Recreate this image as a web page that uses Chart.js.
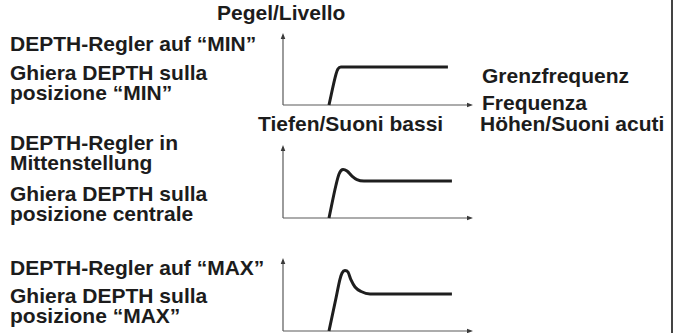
<!DOCTYPE html>
<html>
<head>
<meta charset="utf-8">
<script src="https://cdn.jsdelivr.net/npm/chart.js@4/dist/chart.umd.min.js"></script>
<style>
  html, body { margin: 0; padding: 0; background: #fff; }
  body { width: 679px; height: 333px; position: relative; overflow: hidden;
         font-family: "Liberation Sans", Arial, Helvetica, sans-serif; font-weight: bold;
         color: #1c1c1c; font-size: 21px; line-height: 20px; }
  .t { position: absolute; white-space: nowrap; }
  canvas { position: absolute; }
  .rule { position: absolute; left: 671px; top: 0; width: 1.5px; height: 333px; background: #444; }
</style>
</head>
<body>
<div class="t" style="left:217px;top:3px">Pegel/Livello</div>

<div class="t" style="left:10px;top:34px">DEPTH-Regler auf “MIN”</div>
<div class="t" style="left:10px;top:63px">Ghiera DEPTH sulla<br>posizione “MIN”</div>

<div class="t" style="left:482px;top:66px">Grenzfrequenz</div>
<div class="t" style="left:482px;top:93px">Frequenza</div>
<div class="t" style="left:258px;top:114px">Tiefen/Suoni bassi</div>
<div class="t" style="left:480px;top:114px">Höhen/Suoni acuti</div>

<div class="t" style="left:10px;top:133px">DEPTH-Regler in<br>Mittenstellung</div>
<div class="t" style="left:10px;top:184px">Ghiera DEPTH sulla<br>posizione centrale</div>

<div class="t" style="left:10px;top:258px">DEPTH-Regler auf “MAX”</div>
<div class="t" style="left:10px;top:286px">Ghiera DEPTH sulla<br>posizione “MAX”</div>

<div class="rule"></div>

<canvas id="cMin" width="202" height="84" style="left:277px;top:27px"></canvas>
<canvas id="cMid" width="202" height="85" style="left:277px;top:139px"></canvas>
<canvas id="cMax" width="202" height="85" style="left:277px;top:252px"></canvas>

<script>
// Frequency response of the filter for three DEPTH settings.
// Frequency and level are relative units (0 = axis origin, 100 = arrow tip).
const freqMin  = [24.2, 27.9, 28.9, 30.5, 86.8];
const levelMin = [0, 43, 50, 52.8, 52.8];

const freqMid  = [24.2, 27.9, 29.5, 31.6, 33.7, 36.3, 38.9, 42.6, 88.9];
const levelMid = [0, 45.2, 60.3, 66.4, 64.4, 57.5, 52.7, 50.7, 50.7];

const freqMax  = [24.2, 27.9, 30.0, 31.1, 32.6, 34.2, 35.8, 37.9, 41.1, 45.8, 88.9];
const levelMax = [0, 45.2, 71.2, 79.5, 82.9, 80.8, 69.9, 60.3, 54.1, 50.7, 50.7];

const axisMax = 100;

// Draws the two axes with arrowheads underneath the response curve.
const arrowAxes = {
  id: 'arrowAxes',
  beforeDatasetsDraw(chart) {
    const { ctx, scales: { x, y } } = chart;
    const x0 = x.getPixelForValue(0), y0 = y.getPixelForValue(0);
    const xEnd = x.getPixelForValue(axisMax), yTop = y.getPixelForValue(axisMax);
    ctx.save();
    ctx.strokeStyle = '#5a5a5a';
    ctx.fillStyle = '#3a3a3a';
    ctx.lineWidth = 1.2;
    ctx.beginPath();
    ctx.moveTo(x0, y0); ctx.lineTo(x0, yTop + 4);
    ctx.moveTo(x0, y0); ctx.lineTo(xEnd - 4, y0);
    ctx.stroke();
    ctx.beginPath();
    ctx.moveTo(x0, yTop); ctx.lineTo(x0 - 2.3, yTop + 6); ctx.lineTo(x0 + 2.3, yTop + 6); ctx.closePath();
    ctx.moveTo(xEnd, y0); ctx.lineTo(xEnd - 6, y0 - 2.3); ctx.lineTo(xEnd - 6, y0 + 2.3); ctx.closePath();
    ctx.fill();
    ctx.restore();
  }
};

function responseChart(id, freq, level) {
  return new Chart(document.getElementById(id), {
    type: 'scatter',
    data: {
      datasets: [{
        data: freq.map((f, i) => ({ x: f, y: level[i] })),
        showLine: true,
        borderColor: '#1e1e1e',
        borderWidth: 3,
        pointRadius: 0,
        cubicInterpolationMode: 'monotone',
        borderCapStyle: 'butt',
        borderJoinStyle: 'round',
        clip: false
      }]
    },
    options: {
      responsive: false,
      animation: false,
      events: [],
      layout: { padding: 6 },
      plugins: { legend: { display: false }, tooltip: { enabled: false } },
      scales: {
        x: { type: 'linear', min: 0, max: axisMax, display: false },
        y: { type: 'linear', min: 0, max: axisMax, display: false }
      }
    },
    plugins: [arrowAxes]
  });
}

responseChart('cMin', freqMin, levelMin);
responseChart('cMid', freqMid, levelMid);
responseChart('cMax', freqMax, levelMax);
</script>
</body>
</html>
